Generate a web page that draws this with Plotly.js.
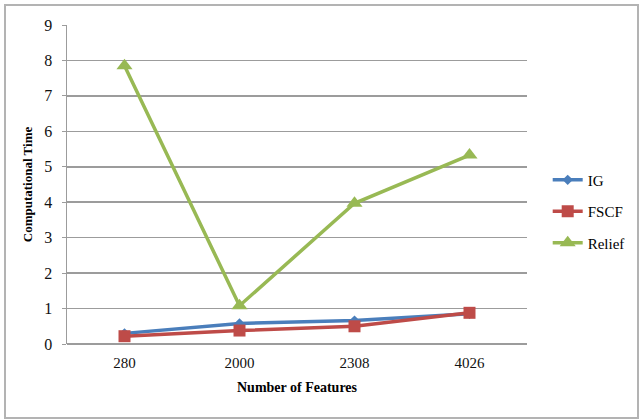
<!DOCTYPE html>
<html>
<head>
<meta charset="utf-8">
<script src="https://cdn.plot.ly/plotly-3.0.1.min.js"></script>
<style>
  html, body { margin: 0; padding: 0; background: #fff; }
  #wrap { position: relative; width: 643px; height: 419px; }
  #chart { position: absolute; left: 0; top: 0; width: 643px; height: 419px; }
  #frame { position: absolute; left: 4px; top: 4px; width: 631px; height: 411px;
           border: 2px solid #b3b3b3; pointer-events: none; }
  #chart text { font-family: "Liberation Serif", "Times New Roman", serif !important; }
</style>
</head>
<body>
<div id="wrap">
  <div id="chart"></div>
  <div id="frame"></div>
</div>
<script>
// Number of features in each dataset (category axis)
const features = ['280', '2000', '2308', '4026'];

// Computational time per feature-selection method
const igTime     = [0.30, 0.58, 0.66, 0.85];
const fscfTime   = [0.22, 0.38, 0.50, 0.88];
const reliefTime = [7.85, 1.08, 3.97, 5.33];

const yTicks = [0, 1, 2, 3, 4, 5, 6, 7, 8, 9];

const serif = 'Liberation Serif';

const traces = [
  {
    name: 'IG', x: features, y: igTime, type: 'scatter', mode: 'lines+markers',
    line: { color: '#4a7ebb', width: 3.5 },
    marker: { symbol: 'diamond', size: 8, color: '#4a7ebb' },
    legendgroup: 'a'
  },
  {
    name: 'FSCF', x: features, y: fscfTime, type: 'scatter', mode: 'lines+markers',
    line: { color: '#be4b48', width: 3.5 },
    marker: { symbol: 'square', size: 12, color: '#be4b48' },
    legendgroup: 'b'
  },
  {
    name: 'Relief', x: features, y: reliefTime, type: 'scatter', mode: 'lines+markers',
    line: { color: '#98b954', width: 3.5 },
    marker: { symbol: 'triangle-up', size: 14, color: '#98b954' },
    legendgroup: 'c'
  }
];

const layout = {
  width: 643, height: 419,
  margin: { l: 67, r: 116, t: 25, b: 75 },
  paper_bgcolor: '#ffffff', plot_bgcolor: '#ffffff',
  font: { family: serif, size: 14, color: '#000' },
  xaxis: {
    type: 'category',
    range: [-0.5, 3.5],
    showgrid: false, zeroline: false,
    showline: false,
    ticks: '',
    ticklabelstandoff: 8,
    tickfont: { family: serif, size: 15, color: '#111' },
    title: { text: '<b>Number of Features</b>', font: { family: serif, size: 14 }, standoff: 12 }
  },
  yaxis: {
    range: [0, 9],
    tickvals: yTicks,
    showgrid: true, gridcolor: '#9c9c9c', gridwidth: 1.5,
    zeroline: true, zerolinecolor: '#9c9c9c', zerolinewidth: 1.5,
    showline: true, linecolor: '#9c9c9c', linewidth: 1.5,
    ticks: 'outside', ticklen: 4, tickcolor: '#9c9c9c',
    ticklabelstandoff: 6,
    tickfont: { family: serif, size: 16, color: '#111' },
    title: { text: '<b>Computational Time</b>', font: { family: serif, size: 13 }, standoff: 8 }
  },
  showlegend: true,
  legend: {
    x: 1.045, xanchor: 'left', y: 0.415, yanchor: 'middle',
    traceorder: 'grouped', tracegroupgap: 9,
    font: { family: serif, size: 15 },
    bgcolor: 'rgba(0,0,0,0)'
  }
};

Plotly.newPlot('chart', traces, layout, { staticPlot: true });
</script>
</body>
</html>
